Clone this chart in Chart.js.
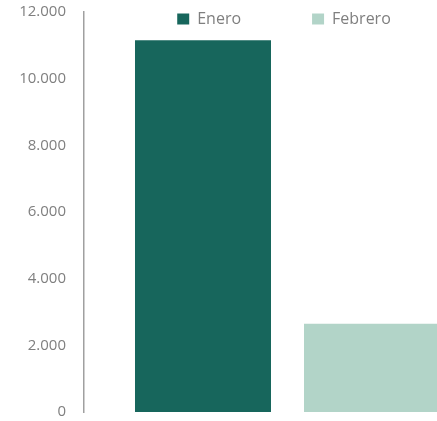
<!DOCTYPE html>
<html>
<head>
<meta charset="utf-8">
<script src="https://cdn.jsdelivr.net/npm/chart.js@4.4.1/dist/chart.umd.min.js"></script>
<style>
  html, body { margin: 0; padding: 0; background: #fff; overflow: hidden; }
  #wrap { position: relative; width: 500px; height: 421px; }
</style>
</head>
<body>
<div id="wrap"><canvas id="c"></canvas></div>
<script>
const categories = ['Total'];
const seriesNames = ['Enero', 'Febrero'];
const eneroValues = [11150];
const febreroValues = [2650];
const yTickValues = [0, 2000, 4000, 6000, 8000, 10000, 12000];
const yTickLabels = ['0', '2.000', '4.000', '6.000', '8.000', '10.000', '12.000'];

const textColor = '#7f7f7f';
const fontFamily = '"Open Sans", Lato, sans-serif';

// Move the (zero-height) top legend so that it overlaps the top of the plot,
// as in the reference.
const legendPlace = {
  id: 'legendPlace',
  afterLayout(chart) {
    const lg = chart.legend;
    if (!lg) return;
    const pad = lg.options.labels.padding;
    const rowTop = 11;
    lg.left = chart.chartArea.left - 7;
    lg.right = chart.chartArea.right;
    lg.width = lg.right - lg.left;
    lg.top = rowTop - pad;
    lg.bottom = rowTop + 30;
    lg.height = lg.bottom - lg.top;
  }
};

new Chart(document.getElementById('c'), {
  type: 'bar',
  data: {
    labels: categories,
    datasets: [
      { label: seriesNames[0], data: eneroValues, backgroundColor: '#17665C', borderWidth: 0 },
      { label: seriesNames[1], data: febreroValues, backgroundColor: '#B2D4C8', borderWidth: 0 }
    ]
  },
  options: {
    responsive: true,
    maintainAspectRatio: false,
    animation: false,
    categoryPercentage: 0.8305,
    barPercentage: 0.8047,
    layout: { padding: { left: 14, right: 9, top: 11, bottom: 9 } },
    plugins: {
      tooltip: { enabled: false },
      legend: {
        position: 'top',
        align: 'center',
        maxHeight: 1,
        labels: {
          boxWidth: 12,
          boxHeight: 11,
          padding: 71,
          color: textColor,
          font: { family: fontFamily, size: 16 }
        }
      }
    },
    scales: {
      x: { display: false },
      y: {
        min: 0,
        max: 12000,
        afterFit(scale) { scale.width = 70; scale.paddingTop = 0; scale.paddingBottom = 0; },
        afterBuildTicks(scale) { scale.ticks = yTickValues.map(v => ({ value: v })); },
        grid: { display: false, drawTicks: false },
        border: { display: true, color: '#a0a0a0', width: 1.5 },
        ticks: {
          padding: 18,
          color: textColor,
          font: { family: fontFamily, size: 15 },
          callback: (v, i) => yTickLabels[i]
        }
      }
    }
  },
  plugins: [legendPlace]
});
</script>
</body>
</html>
